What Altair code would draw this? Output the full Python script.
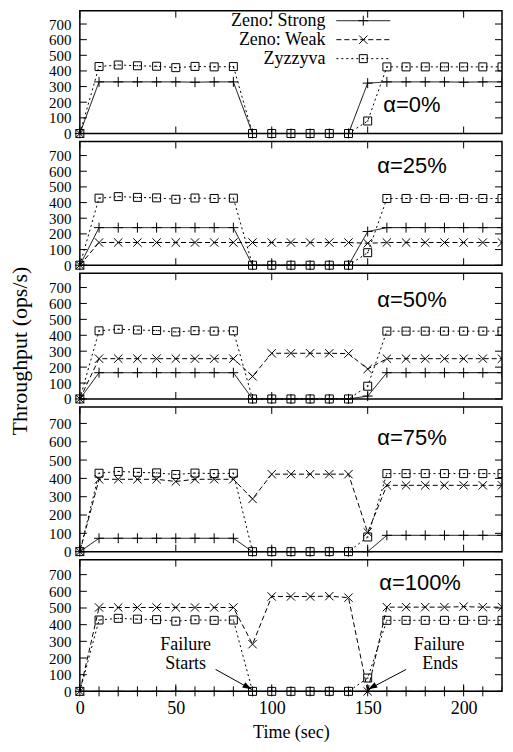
import altair as alt
import pandas as pd

# ---------------- data ----------------
time_s = [0, 10, 20, 30, 40, 50, 60, 70, 80, 90, 100, 110, 120, 130, 140, 150,
          160, 170, 180, 190, 200, 210, 220]

zyzzyva = [0, 428, 438, 433, 430, 421, 429, 426, 428, 0, 0, 0, 0, 0, 0, 80,
           426, 426, 426, 426, 426, 426, 426]

strong_a0 = [0, 330, 330, 330, 330, 330, 328, 330, 330, 0, 0, 0, 0, 0, 0, 322,
             330, 330, 330, 330, 328, 330, 330]
weak_a0 = [0] + [None] * 22

strong_a25 = [0, 240, 240, 240, 240, 240, 240, 240, 240, 0, 0, 0, 0, 0, 0, 215,
              240, 240, 240, 240, 240, 240, 240]
weak_a25 = [0, 145, 145, 145, 145, 145, 145, 145, 145, 145, 145, 145, 145, 145, 145, 140,
            145, 145, 145, 145, 145, 145, 145]

strong_a50 = [0, 165, 165, 165, 165, 165, 165, 165, 165, 0, 0, 0, 0, 0, 0, 18,
              165, 165, 165, 165, 165, 165, 165]
weak_a50 = [0, 253, 253, 253, 253, 253, 253, 253, 253, 142, 287, 287, 287, 287, 285, 188,
            253, 253, 253, 253, 253, 253, 253]

strong_a75 = [0, 73, 73, 73, 73, 73, 73, 73, 73, 0, 0, 0, 0, 0, 0, 0,
              89, 89, 89, 89, 89, 89, 89]
weak_a75 = [0, 395, 395, 395, 395, 383, 395, 395, 395, 288, 423, 423, 423, 423, 423, 105,
            362, 362, 362, 362, 362, 362, 362]

strong_a100 = [0] * 23
weak_a100 = [0, 503, 503, 503, 503, 503, 503, 503, 503, 283, 569, 569, 569, 571, 562, 0,
             505, 505, 505, 505, 508, 505, 505]

alpha_labels = ["α=0%", "α=25%", "α=50%", "α=75%", "α=100%"]
series_names = ["Zeno: Strong", "Zeno: Weak", "Zyzzyva"]
x_ticks = [0, 50, 100, 150, 200]
y_ticks = [0, 100, 200, 300, 400, 500, 600, 700]

panels = [
    (strong_a0, weak_a0, zyzzyva),
    (strong_a25, weak_a25, zyzzyva),
    (strong_a50, weak_a50, zyzzyva),
    (strong_a75, weak_a75, zyzzyva),
    (strong_a100, weak_a100, zyzzyva),
]

# ---------------- styling / layout ----------------
SERIF = "Liberation Serif"
W = 423
X_MAX = 220
heights = [123, 124, 126, 145, 132]
ydom = [[0, 785], [0, 790], [0, 790], [0, 790], [0, 790]]
dash_range = [[1, 0], [5, 3], [2, 3]]
marker_paths = {
    "Zeno: Strong": ("M-1,0L1,0M0,-1L0,1", 100),
    "Zeno: Weak": ("M-1,-1L1,1M-1,1L1,-1", 70),
    "Zyzzyva": ("M-1,-1L1,-1L1,1L-1,1Z M-0.2,0L0.2,0", 64),
}
alpha_pos = [(304, 94), (298, 25), (298, 27), (298, 31), (300, 23)]
one = alt.Data(values=[{"a": 1}])


def make_panel(i):
    strong, weak, zyz = panels[i]
    rows = []
    for name, vals in zip(series_names, [strong, weak, zyz]):
        for t, v in zip(time_s, vals):
            if v is not None:
                rows.append({"time": t, "tput": v, "series": name})
    df = pd.DataFrame(rows)
    h = heights[i]
    last = i == len(panels) - 1

    xscale = alt.Scale(domain=[0, X_MAX], nice=False, zero=False)
    yscale = alt.Scale(domain=ydom[i], nice=False)
    if last:
        xaxis = alt.Axis(values=x_ticks, title="Time (sec)", ticks=False, domain=False,
                         grid=False, labelFont=SERIF, labelFontSize=18, labelColor="black",
                         labelPadding=8, labelFlush=False, labelOverlap=False,
                         titleFont=SERIF, titleFontSize=18, titleFontWeight="normal",
                         titleColor="black", titlePadding=6)
    else:
        xaxis = None
    yaxis = alt.Axis(values=y_ticks, title=None, ticks=False, domain=False, grid=False,
                     labelFont=SERIF, labelFontSize=15, labelColor="black",
                     labelPadding=9, labelFlush=False, labelOverlap=False)

    def X(field):
        return alt.X(field, scale=xscale, axis=xaxis)

    def Y(field):
        return alt.Y(field, scale=yscale, axis=yaxis)

    base = alt.Chart(df)
    layers = []
    lines = base.mark_line(color="black", strokeWidth=1).encode(
        x=X("time:Q"),
        y=Y("tput:Q"),
        strokeDash=alt.StrokeDash("series:N", scale=alt.Scale(domain=series_names, range=dash_range), legend=None),
        detail="series:N",
    )
    layers.append(lines)
    for name in series_names:
        path, size = marker_paths[name]
        for edge in (False, True):
            cond = (alt.datum.series == name) & ((alt.datum.time >= X_MAX) if edge else (alt.datum.time < X_MAX))
            pts = base.transform_filter(cond).mark_point(
                shape=path, size=size, filled=False, stroke="black", strokeWidth=1, opacity=1,
                clip=edge
            ).encode(x=X("time:Q"), y=Y("tput:Q"))
            layers.append(pts)

    # inward ticks
    xt = alt.Chart(pd.DataFrame({"time": x_ticks}))
    layers.append(xt.mark_rule(color="black", strokeWidth=1).encode(
        x=X("time:Q"), y=alt.value(0), y2=alt.value(7)))
    layers.append(xt.mark_rule(color="black", strokeWidth=1).encode(
        x=X("time:Q"), y=alt.value(h), y2=alt.value(h - 7)))
    yt = alt.Chart(pd.DataFrame({"tput": y_ticks}))
    layers.append(yt.mark_rule(color="black", strokeWidth=1).encode(
        y=Y("tput:Q"), x=alt.value(0), x2=alt.value(7)))
    layers.append(yt.mark_rule(color="black", strokeWidth=1).encode(
        y=Y("tput:Q"), x=alt.value(W - 7), x2=alt.value(W)))

    # alpha label
    ax, ay = alpha_pos[i]
    layers.append(alt.Chart(one).mark_text(
        font="Liberation Sans", fontSize=22, align="left", baseline="middle", color="black"
    ).encode(x=alt.value(ax), y=alt.value(ay), text=alt.value(alpha_labels[i])))

    if i == 0:
        for k, name in enumerate(series_names):
            ry = [10, 29, 48][k]
            path, size = marker_paths[name]
            layers.append(alt.Chart(one).mark_text(
                font=SERIF, fontSize=18, align="right", baseline="middle", color="black"
            ).encode(x=alt.value(246), y=alt.value(ry), text=alt.value(name)))
            layers.append(alt.Chart(one).mark_rule(
                color="black", strokeWidth=1, strokeDash=dash_range[k]
            ).encode(x=alt.value(257), x2=alt.value(311), y=alt.value(ry)))
            layers.append(alt.Chart(one).mark_point(
                shape=path, size=size, filled=False, stroke="black", strokeWidth=1, opacity=1
            ).encode(x=alt.value(284), y=alt.value(ry)))

    if i == 2:
        layers.append(alt.Chart(one).mark_text(
            font=SERIF, fontSize=22, angle=270, align="center", baseline="middle", color="black"
        ).encode(x=alt.value(-60), y=alt.value(78), text=alt.value("Throughput (ops/s)")))

    if last:
        for txt, tx, ty in [("Failure", 106, 86), ("Starts", 106, 105),
                            ("Failure", 360, 86), ("Ends", 361, 105)]:
            layers.append(alt.Chart(one).mark_text(
                font=SERIF, fontSize=18, align="center", baseline="middle", color="black"
            ).encode(x=alt.value(tx), y=alt.value(ty), text=alt.value(txt)))
        for (x1, y1, x2, y2) in [(136, 110, 172, 130), (327, 110, 289, 130)]:
            layers.append(alt.Chart(one).mark_rule(color="black", strokeWidth=1).encode(
                x=alt.value(x1), x2=alt.value(x2), y=alt.value(y1), y2=alt.value(y2)))
        layers.append(alt.Chart(one).mark_point(
            shape="M0,0L-1,-0.35L-1,0.35Z", size=324, filled=True, color="black", opacity=1, angle=30
        ).encode(x=alt.value(172), y=alt.value(130)))
        layers.append(alt.Chart(one).mark_point(
            shape="M0,0L-1,-0.35L-1,0.35Z", size=324, filled=True, color="black", opacity=1, angle=150
        ).encode(x=alt.value(289), y=alt.value(130)))

    return alt.layer(*layers).properties(width=W, height=h)


chart = alt.vconcat(*[make_panel(i) for i in range(5)], spacing=8, bounds="flush").properties(
    padding={"left": 0, "top": 0, "right": 0, "bottom": 0}
).configure_view(stroke="black", strokeWidth=1.5)

chart.save("out.html", embed_options={"renderer": "svg", "actions": False})
